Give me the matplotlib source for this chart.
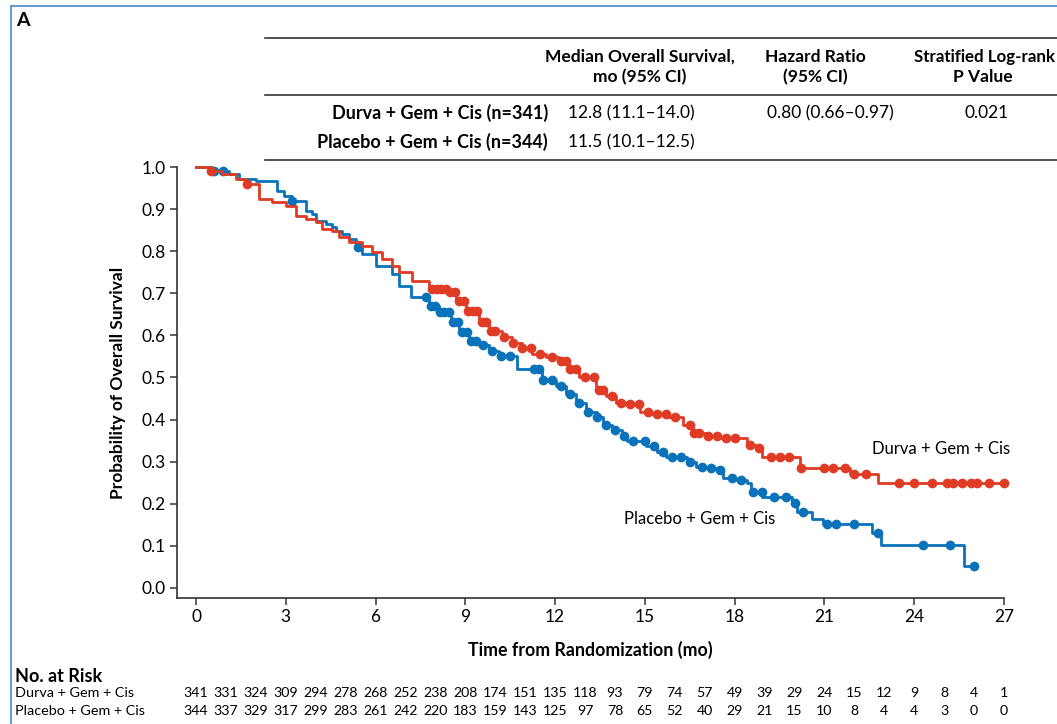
import numpy as np
import matplotlib
matplotlib.use('Agg')
import matplotlib.pyplot as plt
from matplotlib.lines import Line2D
from matplotlib.transforms import blended_transform_factory

plt.rcParams['font.family'] = ['Lato', 'DejaVu Sans']

# Kaplan-Meier steps (time in months, survival after step)
durva_t = [0, 0.43, 0.87, 1.34, 1.67, 2.1, 2.54, 3.0, 3.34, 3.68, 4.0, 4.2, 4.55, 4.78,
           5.12, 5.55, 5.89, 6.22, 6.56, 6.79, 7.22, 7.79, 8.36, 8.7, 9.03, 9.46, 9.8,
           10.23, 10.57, 10.9, 11.24, 11.7, 12.14, 12.47, 12.8, 13.37, 13.7, 14.05, 14.48,
           14.82, 15.25, 15.72, 16.26, 16.6, 17.06, 17.5, 18.4, 18.7, 18.9, 20.17, 21.84,
           22.8, 27.0]
durva_s = [1.0, 0.99, 0.983, 0.971, 0.96, 0.924, 0.917, 0.907, 0.883, 0.876, 0.869, 0.852,
           0.848, 0.833, 0.821, 0.812, 0.798, 0.781, 0.764, 0.75, 0.729, 0.71, 0.702, 0.681,
           0.657, 0.631, 0.61, 0.595, 0.583, 0.571, 0.555, 0.548, 0.54, 0.519, 0.5, 0.471,
           0.455, 0.44, 0.436, 0.419, 0.412, 0.405, 0.388, 0.369, 0.36, 0.355, 0.34, 0.333,
           0.312, 0.286, 0.271, 0.25, 0.25]
durva_cens = [0.5, 1.7, 7.9, 8.05, 8.2, 8.35, 8.5, 8.65, 8.8, 8.95, 9.1, 9.25, 9.4, 9.55,
              9.7, 9.85, 10.0, 10.3, 10.6, 10.9, 11.2, 11.5, 11.9, 12.2, 12.35, 12.5, 12.7,
              13.0, 13.3, 13.45, 13.6, 13.9, 14.2, 14.5, 14.8, 15.1, 15.4, 15.7, 16.0, 16.5,
              16.65, 16.8, 17.1, 17.4, 17.7, 18.0, 18.5, 18.8, 19.2, 19.5, 19.8, 20.2, 21.0,
              21.3, 21.7, 22.0, 22.4, 23.5, 24.0, 24.6, 25.1, 25.3, 25.6, 25.9, 26.1, 26.5,
              27.0]

placebo_t = [0, 0.54, 1.1, 1.44, 2.0, 2.7, 2.94, 3.2, 3.68, 3.88, 4.0, 4.35, 4.55, 4.68,
             4.88, 5.12, 5.35, 5.55, 6.02, 6.56, 6.79, 7.19, 7.79, 8.13, 8.53, 8.8, 9.13,
             9.46, 9.8, 10.13, 10.74, 11.57, 12.04, 12.37, 12.71, 13.04, 13.4, 13.6, 13.9,
             14.25, 14.4, 15.05, 15.4, 15.7, 16.4, 16.7, 17.06, 17.4, 17.6, 18.06, 18.4,
             18.56, 18.93, 19.9, 20.07, 20.6, 20.94, 22.58, 22.9, 25.65, 26.0]
placebo_s = [1.0, 0.99, 0.983, 0.971, 0.967, 0.943, 0.931, 0.919, 0.895, 0.888, 0.871,
             0.864, 0.857, 0.848, 0.84, 0.829, 0.81, 0.793, 0.764, 0.745, 0.717, 0.69, 0.669,
             0.655, 0.631, 0.607, 0.586, 0.576, 0.562, 0.552, 0.519, 0.495, 0.479, 0.46,
             0.44, 0.419, 0.407, 0.388, 0.376, 0.36, 0.348, 0.336, 0.324, 0.312, 0.3, 0.288,
             0.286, 0.281, 0.262, 0.257, 0.25, 0.229, 0.217, 0.202, 0.181, 0.164, 0.152,
             0.131, 0.102, 0.052, 0.052]
placebo_cens = [0.6, 0.9, 3.2, 5.4, 7.7, 7.85, 8.0, 8.15, 8.3, 8.45, 8.6, 8.75, 8.9, 9.05,
                9.2, 9.35, 9.6, 9.9, 10.2, 10.5, 11.3, 11.45, 11.6, 11.9, 12.2, 12.5, 12.8,
                13.1, 13.4, 13.7, 14.0, 14.3, 14.6, 15.0, 15.3, 15.6, 15.9, 16.2, 16.5, 16.9,
                17.2, 17.5, 17.9, 18.2, 18.6, 18.9, 19.3, 19.7, 20.0, 20.3, 21.1, 21.4, 22.0,
                22.8, 24.3, 25.2, 26.0]

risk_months = list(range(0, 28))
durva_risk = [341, 331, 324, 309, 294, 278, 268, 252, 238, 208, 174, 151, 135, 118, 93, 79,
              74, 57, 49, 39, 29, 24, 15, 12, 9, 8, 4, 1]
placebo_risk = [344, 337, 329, 317, 299, 283, 261, 242, 220, 183, 159, 143, 125, 97, 78, 65,
                52, 40, 29, 21, 15, 10, 8, 4, 4, 3, 0, 0]

red = '#DF3B25'
blue = '#0A72B9'
dark = '#333333'

W, H = 1057, 724
fig = plt.figure(figsize=(W / 100, H / 100), dpi=100)

def fx(px):
    return px / W

def fy(py):
    return 1 - py / H

ax = fig.add_axes([fx(177), fy(598), fx(1004) - fx(177), fy(167) - fy(598)])


def step_at(t, s, x):
    idx = np.searchsorted(t, x, side='right') - 1
    return np.asarray(s)[idx]


for t, s, cens, col in [(placebo_t, placebo_s, placebo_cens, blue),
                        (durva_t, durva_s, durva_cens, red)]:
    ax.plot(t, s, drawstyle='steps-post', color=col, lw=2.0, clip_on=False)
    ax.plot(cens, step_at(t, s, cens), 'o', color=col, ms=7, mec='none', clip_on=False)

ax.set_xlim(-0.635, 27)
ax.set_ylim(-0.024, 1.0)
ax.set_xticks(range(0, 28, 3))
ax.set_yticks(np.arange(0, 1.01, 0.1))
ax.set_yticklabels(['%.1f' % v for v in np.arange(0, 1.01, 0.1)])
for side in ['top', 'right']:
    ax.spines[side].set_visible(False)
for side in ['left', 'bottom']:
    ax.spines[side].set_color(dark)
    ax.spines[side].set_linewidth(1.2)
ax.tick_params(direction='out', length=5, width=1.1, color=dark, labelsize=12.5, pad=3)

ax.text(22.6, 0.33, 'Durva + Gem + Cis', fontsize=12, va='center', ha='left')
ax.text(14.3, 0.163, 'Placebo + Gem + Cis', fontsize=12, va='center', ha='left')

fig.text(fx(118), fy(383), 'Probability of Overall Survival', rotation=90,
         ha='center', va='center', fontsize=12.5, fontweight='bold')
fig.text(fx(590), fy(650), 'Time from Randomization (mo)', ha='center', va='center',
         fontsize=12.8, fontweight='bold')

# panel frame and label
fig.add_artist(Line2D([fx(11), fx(11)], [fy(6), 0], color='#6A9AD6', lw=1.5))
fig.add_artist(Line2D([fx(11), 1], [fy(6), fy(6)], color='#6A9AD6', lw=1.5))
fig.text(fx(16), fy(21), 'A', fontsize=14, fontweight='bold', ha='left', va='center')

# summary table
for py in [38, 95, 160]:
    fig.add_artist(Line2D([fx(265), 1], [fy(py), fy(py)], color=dark, lw=1.2))
hdr = dict(ha='center', va='center', fontsize=12.5, fontweight='bold')
fig.text(fx(640), fy(57), 'Median Overall Survival,', **hdr)
fig.text(fx(640), fy(77), 'mo (95% CI)', **hdr)
fig.text(fx(815), fy(57), 'Hazard Ratio', **hdr)
fig.text(fx(815), fy(77), '(95% CI)', **hdr)
fig.text(fx(1055), fy(57), 'Stratified Log-rank', ha='right', va='center',
         fontsize=12.2, fontweight='bold')
fig.text(fx(983), fy(77), 'P Value', **hdr)
fig.text(fx(548), fy(113), 'Durva + Gem + Cis (n=341)', ha='right', va='center',
         fontsize=13, fontweight='bold')
fig.text(fx(548), fy(142), 'Placebo + Gem + Cis (n=344)', ha='right', va='center',
         fontsize=13, fontweight='bold')
fig.text(fx(568), fy(113), '12.8 (11.1\u201314.0)', ha='left', va='center', fontsize=12.5)
fig.text(fx(568), fy(142), '11.5 (10.1\u201312.5)', ha='left', va='center', fontsize=12.5)
fig.text(fx(767), fy(113), '0.80 (0.66\u20130.97)', ha='left', va='center', fontsize=12.5)
fig.text(fx(987), fy(113), '0.021', ha='center', va='center', fontsize=12.5)

# number at risk
fig.text(fx(15), fy(677), 'No. at Risk', ha='left', va='center', fontsize=13,
         fontweight='bold')
fig.text(fx(15), fy(693), 'Durva + Gem + Cis', ha='left', va='center', fontsize=10.4)
fig.text(fx(15), fy(711), 'Placebo + Gem + Cis', ha='left', va='center', fontsize=10.4)
tr = blended_transform_factory(ax.transData, fig.transFigure)
for m, a, b in zip(risk_months, durva_risk, placebo_risk):
    ax.text(m, fy(693), str(a), transform=tr, ha='center', va='center', fontsize=10.2)
    ax.text(m, fy(711), str(b), transform=tr, ha='center', va='center', fontsize=10.2)

fig.savefig('out.png', dpi=100)
